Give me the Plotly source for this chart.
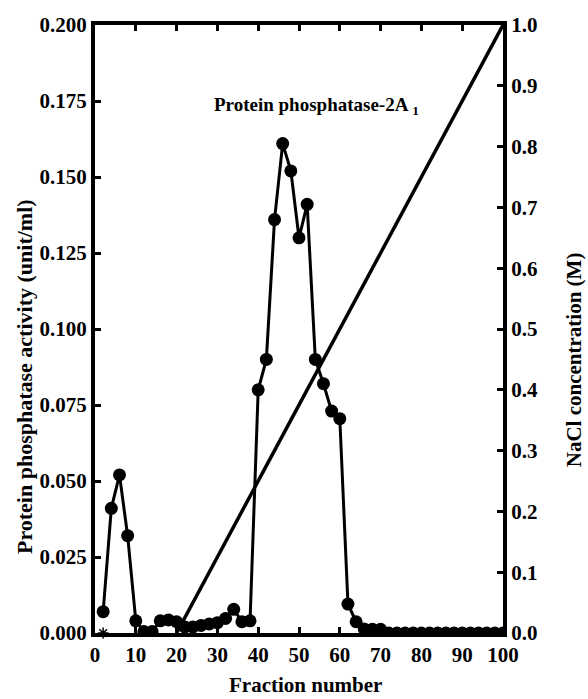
import plotly.graph_objects as go

fractions = [2, 4, 6, 8, 10, 12, 14, 16, 18, 20,
             22, 24, 26, 28, 30, 32, 34, 36, 38, 40,
             42, 44, 46, 48, 50, 52, 54, 56, 58, 60,
             62, 64, 66, 68, 70, 72, 74, 76, 78, 80,
             82, 84, 86, 88, 90, 92, 94, 96, 98, 100]
activity = [0.007, 0.041, 0.052, 0.032, 0.004, 0.0005, 0.0005, 0.004, 0.0043, 0.0037,
            0.002, 0.002, 0.0025, 0.003, 0.0034, 0.0048, 0.0078, 0.0037, 0.004, 0.080,
            0.090, 0.136, 0.161, 0.152, 0.130, 0.141, 0.090, 0.082, 0.073, 0.0705,
            0.0095, 0.0037, 0.0013, 0.0012, 0.0012, 0.0, 0.0, 0.0, 0.0, 0.0,
            0.0, 0.0, 0.0, 0.0, 0.0, 0.0, 0.0, 0.0, 0.0, 0.0]

nacl_fraction = [20, 100]
nacl_conc = [0.0, 1.0]

star_fraction = [2]
star_value = [0.0]

x_ticks = [0, 10, 20, 30, 40, 50, 60, 70, 80, 90, 100]
y_ticks = [0.000, 0.025, 0.050, 0.075, 0.100, 0.125, 0.150, 0.175, 0.200]
y2_ticks = [0.0, 0.1, 0.2, 0.3, 0.4, 0.5, 0.6, 0.7, 0.8, 0.9, 1.0]

FONT = "Liberation Serif"
BLACK = "#000000"

fig = go.Figure()

fig.add_trace(go.Scatter(
    x=nacl_fraction, y=nacl_conc, yaxis="y2", mode="lines",
    line=dict(color=BLACK, width=3.5), showlegend=False, hoverinfo="skip"))

fig.add_trace(go.Scatter(
    x=fractions, y=activity, mode="lines+markers",
    line=dict(color=BLACK, width=3),
    marker=dict(color=BLACK, size=13),
    showlegend=False))

fig.add_trace(go.Scatter(
    x=star_fraction, y=star_value, mode="markers",
    marker=dict(symbol="asterisk-open", size=9, color=BLACK,
                line=dict(color=BLACK, width=1.5)),
    showlegend=False, cliponaxis=False))

tickfont = dict(family=FONT, size=21, color=BLACK, weight="bold")

fig.update_layout(
    width=588, height=699,
    margin=dict(l=95, r=85, t=25, b=66),
    paper_bgcolor="white", plot_bgcolor="white",
    font=dict(family=FONT, color=BLACK),
    xaxis=dict(
        range=[0, 100], tickvals=x_ticks, ticktext=[str(v) for v in x_ticks],
        ticks="inside", ticklen=6, tickwidth=3, tickcolor=BLACK,
        showline=True, linewidth=4, linecolor=BLACK, mirror="ticks",
        showgrid=False, zeroline=False, tickfont=tickfont, ticklabelstandoff=0),
    yaxis=dict(
        range=[0, 0.2], tickvals=y_ticks, ticktext=["%.3f" % v for v in y_ticks],
        ticks="inside", ticklen=6, tickwidth=3, tickcolor=BLACK,
        showline=True, linewidth=4, linecolor=BLACK,
        showgrid=False, zeroline=False, tickfont=tickfont, ticklabelstandoff=0),
    yaxis2=dict(
        range=[0, 1.0], tickvals=y2_ticks, ticktext=["%.1f" % v for v in y2_ticks],
        overlaying="y", side="right",
        ticks="inside", ticklen=6, tickwidth=3, tickcolor=BLACK,
        showline=True, linewidth=4, linecolor=BLACK,
        showgrid=False, zeroline=False, tickfont=tickfont, ticklabelstandoff=0),
    annotations=[
        dict(text="Fraction number", xref="paper", yref="paper", x=0.517, y=-0.086,
             showarrow=False, font=dict(family=FONT, size=21, color=BLACK, weight="bold"),
             xanchor="center", yanchor="middle"),
        dict(text="Protein phosphatase activity (unit/ml)", xref="paper", yref="paper",
             x=-0.174, y=0.421, textangle=-90, showarrow=False,
             font=dict(family=FONT, size=22, color=BLACK, weight="bold"),
             xanchor="center", yanchor="middle"),
        dict(text="NaCl concentration (M)", xref="paper", yref="paper",
             x=1.176, y=0.45, textangle=-90, showarrow=False,
             font=dict(family=FONT, size=21, color=BLACK, weight="bold"),
             xanchor="center", yanchor="middle"),
        dict(text="Protein phosphatase-2A <sub>1</sub>", xref="paper", yref="paper",
             x=(212 - 95) / 408, y=0.867, showarrow=False,
             font=dict(family=FONT, size=19, color=BLACK, weight="bold"),
             xanchor="left", yanchor="middle"),
    ],
)

fig.write_html("out.html")
